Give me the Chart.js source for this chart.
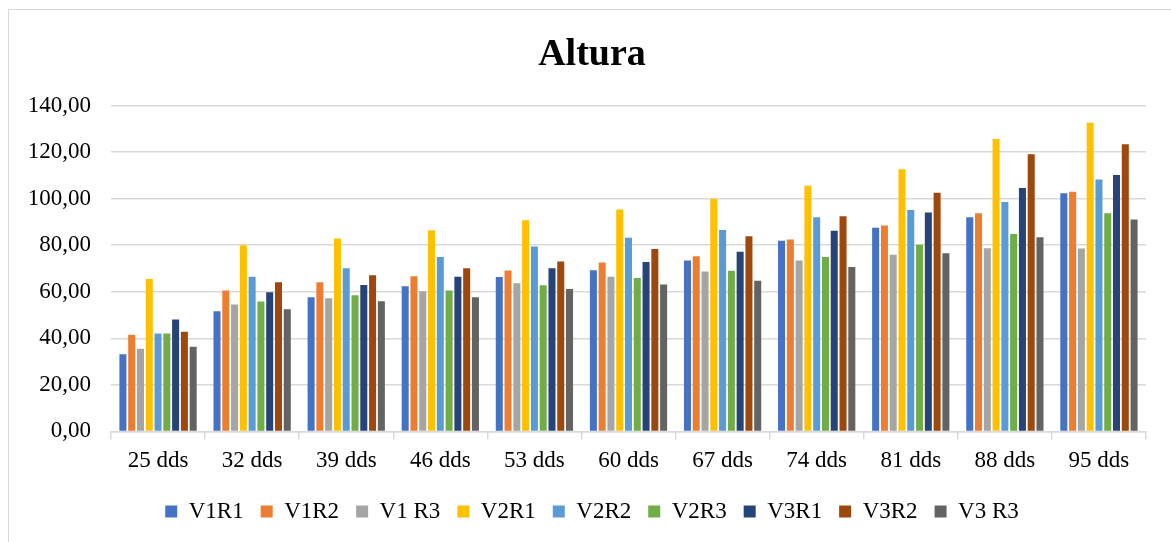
<!DOCTYPE html>
<html>
<head>
<meta charset="utf-8">
<script src="https://cdn.jsdelivr.net/npm/chart.js@4"></script>
<style>
  html, body { margin: 0; padding: 0; background: #fff; }
  #wrap { position: relative; width: 1171px; height: 542px; overflow: hidden; }
  #frame { position: absolute; left: 8px; top: 9px; width: 1300px; height: 700px; border: 1px solid #d9d9d9; }
  canvas { position: absolute; left: 0; top: 0; }
</style>
</head>
<body>
<div id="wrap">
  <div id="frame"></div>
  <canvas id="Altura" width="1171" height="542"></canvas>
</div>
<script>
const altCanvas = document.getElementById("Altura");
const SERIF = "'Liberation Serif', 'Times New Roman', serif";

const days = ["25 dds", "32 dds", "39 dds", "46 dds", "53 dds", "60 dds", "67 dds", "74 dds", "81 dds", "88 dds", "95 dds"];
const yTicks = [0, 20, 40, 60, 80, 100, 120, 140];

// values, one array per treatment
const v1r1 = [33.1, 51.6, 57.6, 62.4, 66.4, 69.3, 73.4, 81.9, 87.5, 92.0, 102.3];
const v1r2 = [41.5, 60.5, 64.1, 66.7, 69.1, 72.6, 75.3, 82.5, 88.5, 93.7, 103.0];
const v1r3 = [35.5, 54.5, 57.2, 60.2, 63.7, 66.5, 68.7, 73.4, 75.9, 78.7, 78.6];
const v2r1 = [65.5, 80.0, 82.9, 86.4, 90.7, 95.3, 99.9, 105.6, 112.7, 125.7, 132.6];
const v2r2 = [42.1, 66.5, 70.1, 74.9, 79.5, 83.2, 86.5, 92.0, 95.1, 98.6, 108.2];
const v2r3 = [42.1, 55.8, 58.5, 60.5, 62.8, 65.9, 69.0, 74.9, 80.2, 84.8, 93.7];
const v3r1 = [48.1, 59.8, 62.9, 66.5, 70.1, 72.8, 77.2, 86.2, 94.1, 104.6, 110.2];
const v3r2 = [42.8, 64.1, 67.1, 70.1, 73.0, 78.4, 83.9, 92.4, 102.6, 119.1, 123.4];
const v3r3 = [36.4, 52.5, 55.9, 57.6, 61.2, 63.1, 64.7, 70.6, 76.5, 83.4, 91.1];

const seriesTemplate = [
  { label: "V1R1", data: v1r1, color: "#4472C4" },
  { label: "V1R2", data: v1r2, color: "#ED7D31" },
  { label: "V1 R3", data: v1r3, color: "#A5A5A5" },
  { label: "V2R1", data: v2r1, color: "#FFC000" },
  { label: "V2R2", data: v2r2, color: "#5B9BD5" },
  { label: "V2R3", data: v2r3, color: "#70AD47" },
  { label: "V3R1", data: v3r1, color: "#264478" },
  { label: "V3R2", data: v3r2, color: "#9E480E" },
  { label: "V3 R3", data: v3r3, color: "#636363" },
];

const composeData = () => ({
  labels: days,
  datasets: seriesTemplate.map((s) => ({
    label: s.label,
    data: s.data,
    backgroundColor: s.color,
    borderColor: s.color,
    borderWidth: 0,
    categoryPercentage: 0.84,
    barPercentage: 0.8,
  })),
});

// measure the widest y label so mirrored labels can be right-aligned left of the axis
const ctx = altCanvas.getContext("2d");
ctx.font = "23px " + SERIF;
const yLabelWidth = ctx.measureText("140,00").width;

const composeConfig = () => ({
  type: "bar",
  data: composeData(),
  options: {
    animation: false,
    responsive: false,
    layout: { padding: { left: 38, right: 25, top: 0, bottom: 9 } },
    plugins: {
      title: {
        display: true,
        text: "Altura",
        color: "#000",
        font: { family: SERIF, size: 38, weight: "bold" },
        padding: { top: 32, bottom: 28 },
      },
      legend: {
        position: "bottom",
        labels: {
          color: "#000",
          font: { family: SERIF, size: 23 },
          boxWidth: 12,
          boxHeight: 12,
          padding: 17,
        },
      },
      tooltip: { enabled: false },
    },
    scales: {
      x: {
        grid: { offset: true, drawOnChartArea: false, color: "#d9d9d9", lineWidth: 1.5, tickLength: 8 },
        border: { color: "#d9d9d9", width: 1.5 },
        ticks: { color: "#000", font: { family: SERIF, size: 23 }, padding: 8, maxRotation: 0 },
      },
      y: {
        min: 0,
        max: 140,
        afterBuildTicks: (scale) => { scale.ticks = yTicks.map((v) => ({ value: v })); },
        afterFit: (scale) => { scale.width = 73; },
        grid: { color: "#d9d9d9", lineWidth: 1.5, drawTicks: false },
        border: { display: false },
        ticks: {
          color: "#000",
          font: { family: SERIF, size: 23 },
          mirror: true,
          crossAlign: "far",
          padding: -(20 + yLabelWidth),
          callback: (v) => v.toFixed(2).replace(".", ","),
        },
      },
    },
  },
});

new Chart(altCanvas, composeConfig());
</script>
</body>
</html>
